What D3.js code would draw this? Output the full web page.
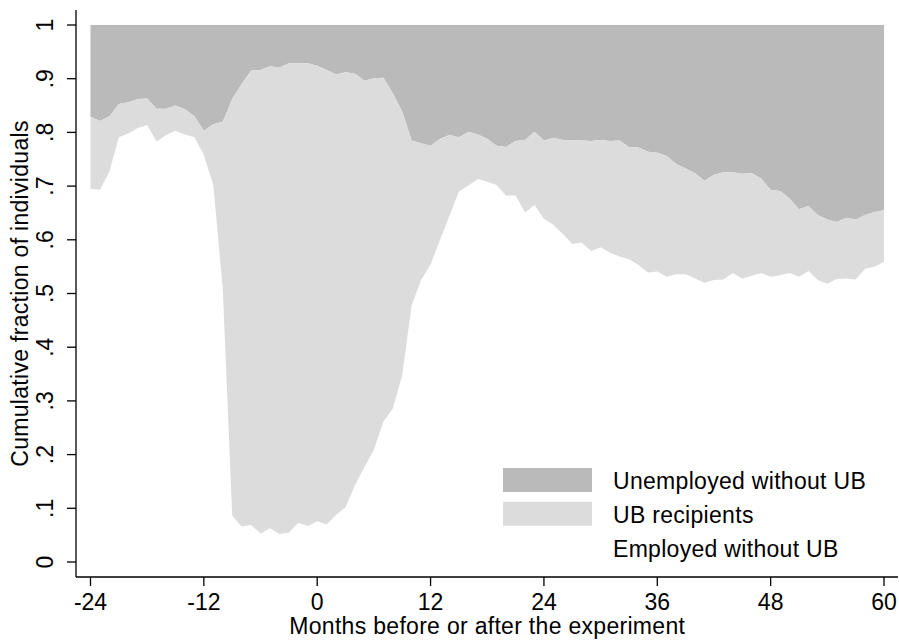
<!DOCTYPE html>
<html>
<head>
<meta charset="utf-8">
<script src="https://cdn.jsdelivr.net/npm/d3@7"></script>
<style>
  body { margin: 0; background: #fff; }
  text { font-family: "Liberation Sans", Arial, Helvetica, sans-serif; fill: #000; }
</style>
</head>
<body>
<svg id="chart" width="899" height="640"></svg>
<script>
// months relative to the experiment
const months = d3.range(-24, 61);

// cumulative share: employed without UB (lower edge of the UB band)
const employed = [
  0.695, 0.693, 0.727, 0.791, 0.798, 0.808, 0.814, 0.783, 0.795, 0.803,
  0.796, 0.791, 0.758, 0.702, 0.510, 0.086, 0.066, 0.069, 0.053, 0.063,
  0.052, 0.055, 0.073, 0.067, 0.076, 0.070, 0.088, 0.102, 0.143, 0.177,
  0.209, 0.261, 0.286, 0.348, 0.478, 0.525, 0.554, 0.600, 0.645, 0.690,
  0.701, 0.713, 0.708, 0.702, 0.682, 0.683, 0.651, 0.665, 0.639, 0.628,
  0.611, 0.592, 0.595, 0.579, 0.586, 0.576, 0.569, 0.564, 0.553, 0.539,
  0.541, 0.531, 0.536, 0.536, 0.528, 0.520, 0.525, 0.526, 0.538, 0.528,
  0.533, 0.538, 0.531, 0.534, 0.538, 0.531, 0.542, 0.525, 0.518, 0.527,
  0.528, 0.526, 0.546, 0.550, 0.559
];

// cumulative share: employed + UB recipients (upper edge of the UB band)
const employedPlusUB = [
  0.829, 0.821, 0.830, 0.853, 0.856, 0.862, 0.863, 0.844, 0.844, 0.850,
  0.843, 0.830, 0.803, 0.815, 0.820, 0.862, 0.890, 0.915, 0.916, 0.923,
  0.921, 0.929, 0.929, 0.929, 0.924, 0.916, 0.908, 0.912, 0.909, 0.896,
  0.901, 0.902, 0.873, 0.839, 0.785, 0.780, 0.775, 0.788, 0.795, 0.791,
  0.801, 0.796, 0.788, 0.775, 0.773, 0.784, 0.786, 0.801, 0.785, 0.790,
  0.786, 0.786, 0.785, 0.784, 0.786, 0.784, 0.785, 0.773, 0.772, 0.764,
  0.762, 0.756, 0.741, 0.733, 0.724, 0.710, 0.721, 0.726, 0.726, 0.723,
  0.724, 0.714, 0.693, 0.691, 0.677, 0.657, 0.663, 0.646, 0.638, 0.633,
  0.641, 0.638, 0.646, 0.652, 0.655
];

const xTicks = [-24, -12, 0, 12, 24, 36, 48, 60];
const yTicks = [0, 0.1, 0.2, 0.3, 0.4, 0.5, 0.6, 0.7, 0.8, 0.9, 1];
const yTickLabels = ["0", ".1", ".2", ".3", ".4", ".5", ".6", ".7", ".8", ".9", "1"];
const legendLabels = ["Unemployed without UB", "UB recipients", "Employed without UB"];
const legendColors = ["#bababa", "#dcdcdc", "none"];

const data = months.map(function(m, i) {
  return { month: m, emp: employed[i], ub: employedPlusUB[i] };
});

const svg = d3.select("#chart");

const axisLeft = 76, axisBottom = 577, axisRight = 898, axisTop = 10;
const fontSize = "23px";

const x = d3.scaleLinear().domain([-24, 60]).range([90.5, 884]);
const y = d3.scaleLinear().domain([0, 1]).range([562, 25]);

// unemployed without UB: from upper edge to 1
svg.append("path")
  .datum(data)
  .attr("fill", legendColors[0])
  .attr("d", d3.area()
    .x(function(d) { return x(d.month); })
    .y0(function(d) { return y(d.ub); })
    .y1(y(1)));

// UB recipients band
svg.append("path")
  .datum(data)
  .attr("fill", legendColors[1])
  .attr("d", d3.area()
    .x(function(d) { return x(d.month); })
    .y0(function(d) { return y(d.emp); })
    .y1(function(d) { return y(d.ub); }));

// axes lines
svg.append("line")
  .attr("x1", axisLeft).attr("x2", axisLeft)
  .attr("y1", axisTop).attr("y2", axisBottom)
  .attr("stroke", "#000").attr("stroke-width", 1.3);

svg.append("line")
  .attr("x1", axisLeft).attr("x2", axisRight)
  .attr("y1", axisBottom).attr("y2", axisBottom)
  .attr("stroke", "#000").attr("stroke-width", 1.3);

// y ticks
const yg = svg.append("g");
yg.selectAll("line")
  .data(yTicks)
  .enter()
  .append("line")
  .attr("x1", axisLeft - 9).attr("x2", axisLeft)
  .attr("y1", function(d) { return y(d); })
  .attr("y2", function(d) { return y(d); })
  .attr("stroke", "#000").attr("stroke-width", 1.3);

yg.selectAll("text")
  .data(yTicks)
  .enter()
  .append("text")
  .attr("transform", function(d) { return "translate(53," + y(d) + ") rotate(-90)"; })
  .attr("text-anchor", "middle")
  .style("font-size", fontSize)
  .text(function(d, i) { return yTickLabels[i]; });

// x ticks
const xg = svg.append("g");
xg.selectAll("line")
  .data(xTicks)
  .enter()
  .append("line")
  .attr("x1", function(d) { return x(d); })
  .attr("x2", function(d) { return x(d); })
  .attr("y1", axisBottom).attr("y2", axisBottom + 9)
  .attr("stroke", "#000").attr("stroke-width", 1.3);

xg.selectAll("text")
  .data(xTicks)
  .enter()
  .append("text")
  .attr("x", function(d) { return x(d); })
  .attr("y", 610)
  .attr("text-anchor", "middle")
  .style("font-size", fontSize)
  .text(function(d) { return d; });

// axis titles
svg.append("text")
  .attr("x", (x(-24) + x(60)) / 2)
  .attr("y", 634)
  .attr("text-anchor", "middle")
  .style("font-size", fontSize)
  .style("letter-spacing", "0.3px")
  .text("Months before or after the experiment");

svg.append("text")
  .attr("transform", "translate(28," + (y(0) + y(1)) / 2 + ") rotate(-90)")
  .attr("text-anchor", "middle")
  .style("font-size", fontSize)
  .style("letter-spacing", "0.3px")
  .text("Cumulative fraction of individuals");

// legend
const legend = svg.append("g").attr("transform", "translate(503,468)");
const rows = legend.selectAll("g")
  .data(legendLabels)
  .enter()
  .append("g")
  .attr("transform", function(d, i) { return "translate(0," + i * 33.7 + ")"; });

rows.append("rect")
  .attr("width", 89)
  .attr("height", 24)
  .attr("fill", function(d, i) { return legendColors[i]; });

rows.append("text")
  .attr("x", 110)
  .attr("y", 21.3)
  .style("font-size", fontSize)
  .style("letter-spacing", "0.3px")
  .text(function(d) { return d; });
</script>
</body>
</html>
